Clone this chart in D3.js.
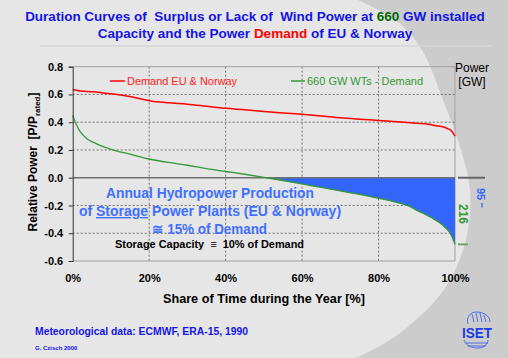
<!DOCTYPE html>
<html><head><meta charset="utf-8">
<script src="https://cdn.jsdelivr.net/npm/d3@7"></script>
<style>
html,body{margin:0;padding:0;background:#e6e6e6;}
svg{display:block;font-family:"Liberation Sans",Arial,sans-serif;}
text{white-space:pre;}
</style></head>
<body>
<svg id="c" width="508" height="358"></svg>
<script>
// ---- data ----
const demandX = [0,2,5,10,15,20,25,30,35,40,45,50,55,60,65,70,75,80,85,90,93,95,97,98,99,100];
const demandY = [0.635,0.625,0.62,0.605,0.585,0.555,0.54,0.53,0.515,0.50,0.49,0.478,0.467,0.457,0.445,0.432,0.422,0.413,0.403,0.392,0.385,0.375,0.365,0.355,0.34,0.30];
const windX = [0,0.5,1,2,3,4,5,7,10,15,20,25,30,35,40,45,50,55,60,65,70,75,80,85,88,90,92,94,96,97.5,98.5,99.3,100];
const windY = [0.45,0.41,0.38,0.33,0.30,0.275,0.26,0.235,0.205,0.17,0.135,0.11,0.09,0.065,0.045,0.025,0.003,-0.02,-0.045,-0.07,-0.095,-0.12,-0.148,-0.18,-0.205,-0.235,-0.26,-0.29,-0.325,-0.36,-0.39,-0.43,-0.48];
const xTicks = [0,20,40,60,80,100];
const yTicks = [-0.6,-0.4,-0.2,0,0.2,0.4,0.6,0.8];
const seriesNames = ["Demand EU & Norway","660 GW WTs - Demand"];
const gwLabels = ["95","216"];

const svg = d3.select("#c");
const W=508,H=358;

// background shapes
svg.append("rect").attr("width",W).attr("height",H).attr("fill","#e6e6e6");
const bgPts=[[358,0],[398,22],[422,50],[443,100],[461,150],[470,190],[467,235],[456,268],[440,295],[418,318],[390,340],[356,358]];
const bgLine=d3.line().curve(d3.curveCatmullRom);
svg.append("path").attr("d",bgLine(bgPts)+"L508,358L508,0Z").attr("fill","#cccccc");
svg.append("line").attr("x1",40).attr("x2",493).attr("y1",46).attr("y2",46).attr("stroke","#d6d6d6").attr("stroke-width",1.5);

// title
const t1=svg.append("text").attr("x",255).attr("y",21).attr("text-anchor","middle").attr("font-size",13.5).attr("font-weight","bold").attr("fill","#1414e6");
t1.append("tspan").text("Duration Curves of  Surplus or Lack of  Wind Power at ");
t1.append("tspan").attr("fill","#006600").text("660");
t1.append("tspan").text(" GW installed");
const t2=svg.append("text").attr("x",255).attr("y",38).attr("text-anchor","middle").attr("font-size",13.5).attr("font-weight","bold").attr("fill","#1414e6");
t2.append("tspan").text("Capacity and the Power ");
t2.append("tspan").attr("fill","#ff0000").text("Demand");
t2.append("tspan").text(" of EU & Norway");

// scales
const x=d3.scaleLinear().domain([0,100]).range([72.7,455]);
const y=d3.scaleLinear().domain([-0.6,0.8]).range([261,66.7]);

// grid
const g=svg.append("g");
g.selectAll("line.hg").data(yTicks.filter(d=>d!==0&&d!==0.8&&d!==-0.6)).join("line")
 .attr("x1",x(0)).attr("x2",x(100)).attr("y1",d=>y(d)).attr("y2",d=>y(d))
 .attr("stroke","#555").attr("stroke-dasharray","2,2").attr("stroke-width",0.8);
g.selectAll("line.vg").data(xTicks.filter(d=>d>0&&d<100)).join("line")
 .attr("x1",d=>x(d)).attr("x2",d=>x(d)).attr("y1",y(0.8)).attr("y2",y(-0.6))
 .attr("stroke","#555").attr("stroke-dasharray","2,2").attr("stroke-width",0.8);
// frame
g.append("path").attr("d",`M${x(0)},${y(0.8)}H${x(100)}V${y(-0.6)}H${x(0)}`).attr("fill","none").attr("stroke","#a0a0a0").attr("stroke-width",1);

// blue area between zero and wind where negative
const neg=windX.map((d,i)=>[d,windY[i]]).filter((d,i)=>d[1]<=0.003);
const area=d3.area().x(d=>x(d[0])).y0(y(0)).y1(d=>y(Math.min(0,d[1])));
svg.append("path").datum(neg).attr("d",area).attr("fill","#3366ff");

// zero line
svg.append("line").attr("x1",x(0)).attr("x2",x(100)).attr("y1",y(0)).attr("y2",y(0)).attr("stroke","#707070").attr("stroke-width",1.5);

// lines
const line=d3.line().x(d=>x(d[0])).y(d=>y(d[1])).curve(d3.curveMonotoneX);
svg.append("path").datum(demandX.map((d,i)=>[d,demandY[i]])).attr("d",line).attr("fill","none").attr("stroke","#ff0000").attr("stroke-width",1.5);
svg.append("path").datum(windX.map((d,i)=>[d,windY[i]])).attr("d",line).attr("fill","none").attr("stroke","#339933").attr("stroke-width",1.3);

// y axis
const ya=svg.append("g").attr("transform",`translate(${x(0)},0)`).call(d3.axisLeft(y).tickValues(yTicks).tickSize(4).tickFormat(d=>d.toFixed(1)));
ya.select(".domain").attr("stroke","#333");
ya.selectAll(".tick line").attr("stroke","#333");
ya.selectAll("text").attr("font-size",11).attr("font-weight","bold").attr("fill","#000").attr("x",-9.5).attr("font-family","Liberation Sans, Arial, sans-serif");
// x axis
const xa=svg.append("g").attr("transform",`translate(0,${y(-0.6)})`).call(d3.axisBottom(x).tickValues(xTicks).tickSize(0).tickPadding(13).tickFormat(d=>d+"%"));
xa.select(".domain").remove();
xa.selectAll("text").attr("font-size",11).attr("font-weight","bold").attr("fill","#000").attr("font-family","Liberation Sans, Arial, sans-serif");

// axis titles
const yt=svg.append("text").attr("transform","translate(37,162) rotate(-90)").attr("text-anchor","middle").attr("font-size",12).attr("font-weight","bold").attr("fill","#000");
yt.append("tspan").text("Relative Power  [P/P");
yt.append("tspan").attr("font-size",8).attr("dy",3).text("rated");
yt.append("tspan").attr("dy",-3).text("]");
svg.append("text").attr("x",264).attr("y",303).attr("text-anchor","middle").attr("font-size",12.5).attr("font-weight","bold").attr("textLength",202).attr("lengthAdjust","spacingAndGlyphs").text("Share of Time during the Year [%]");

// legends
svg.append("line").attr("x1",110).attr("x2",125).attr("y1",81).attr("y2",81).attr("stroke","#ff0000").attr("stroke-width",1.5);
svg.append("text").attr("x",127).attr("y",85).attr("font-size",11).attr("fill","#ff2020").attr("textLength",110).attr("lengthAdjust","spacingAndGlyphs").text(seriesNames[0]);
svg.append("line").attr("x1",291).attr("x2",305).attr("y1",81).attr("y2",81).attr("stroke","#339933").attr("stroke-width",1.5);
svg.append("text").attr("x",307).attr("y",85).attr("font-size",11).attr("fill","#339933").attr("textLength",116).attr("lengthAdjust","spacingAndGlyphs").text(seriesNames[1]);

// Power GW
svg.append("text").attr("x",472).attr("y",72).attr("text-anchor","middle").attr("font-size",12).text("Power");
svg.append("text").attr("x",472).attr("y",86).attr("text-anchor","middle").attr("font-size",12).text("[GW]");
svg.append("line").attr("x1",458).attr("x2",485).attr("y1",y(0)).attr("y2",y(0)).attr("stroke","#666").attr("stroke-width",2);
svg.append("text").attr("transform","translate(477,194) rotate(90)").attr("text-anchor","middle").attr("font-size",11).attr("font-weight","bold").attr("fill","#3366ff").text(gwLabels[0]);
svg.append("line").attr("x1",482).attr("x2",482).attr("y1",203).attr("y2",207.5).attr("stroke","#3366ff").attr("stroke-width",1.3);
svg.append("text").attr("transform","translate(459,214) rotate(90)").attr("text-anchor","middle").attr("font-size",12).attr("font-weight","bold").attr("fill","#339933").text(gwLabels[1]);
svg.append("line").attr("x1",458).attr("x2",468).attr("y1",y(windY[windY.length-1])).attr("y2",y(windY[windY.length-1])).attr("stroke","#66aa66").attr("stroke-width",2);

// annotations
const ann=svg.append("g").attr("font-weight","bold");
ann.append("text").attr("x",106).attr("y",198).attr("font-size",14).attr("fill","#4070ff").attr("textLength",208).attr("lengthAdjust","spacingAndGlyphs").text("Annual Hydropower Production");
const a2=ann.append("text").attr("x",210).attr("y",216).attr("text-anchor","middle").attr("font-size",14).attr("fill","#4070ff");
a2.append("tspan").text("of ");
a2.append("tspan").attr("text-decoration","underline").text("Storage");
a2.append("tspan").text(" Power Plants (EU & Norway)");
ann.append("text").attr("x",152).attr("y",234).attr("font-size",14).attr("fill","#4070ff").attr("textLength",115).attr("lengthAdjust","spacingAndGlyphs").text("\u2245 15% of Demand");
ann.append("text").attr("x",115).attr("y",248).attr("font-size",10.5).attr("fill","#000").attr("textLength",189).attr("lengthAdjust","spacingAndGlyphs").text("Storage Capacity  \u2261  10% of Demand");

// footer
svg.append("text").attr("x",35).attr("y",335).attr("font-size",10.5).attr("font-weight","bold").attr("fill","#1414e6").attr("textLength",213).attr("lengthAdjust","spacingAndGlyphs").text("Meteorological data: ECMWF, ERA-15, 1990");
svg.append("text").attr("x",35).attr("y",350).attr("font-size",6).attr("font-weight","bold").attr("fill","#1414e6").text("G. Czisch 2000");

// ISET logo
const lg=svg.append("g").attr("fill","none").attr("stroke","#3355ee").attr("stroke-width",0.8);
lg.append("path").attr("d","M468,324 C466,318 470,312 476,312 C484,312 490,316 490,322");
lg.append("path").attr("d","M464,340 C466,346 472,348 478,348 C484,348 488,344 488,340");
lg.append("path").attr("d","M466,343 H488 M468,346 H486");
lg.append("path").attr("d","M472,314 L474,322 M476,313 L478,322 M480,313 L482,322 M484,315 L486,322");
svg.append("text").attr("x",477).attr("y",338).attr("text-anchor","middle").attr("font-size",15).attr("font-weight","bold").attr("fill","#1a3ee6").attr("textLength",30).attr("lengthAdjust","spacingAndGlyphs").text("ISET");
</script>
</body></html>
